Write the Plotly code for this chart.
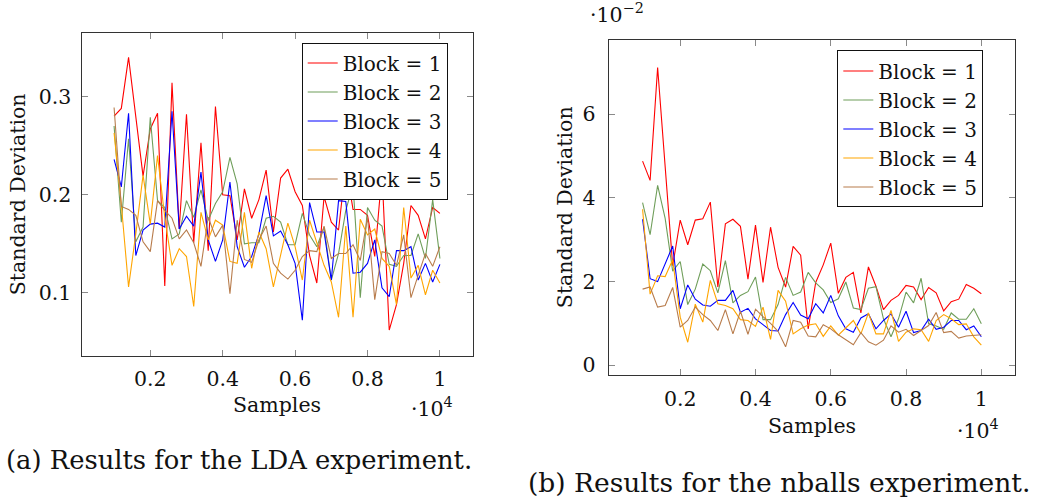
import plotly.graph_objects as go

W, H = 1037, 500

# ---------------- data ----------------
samples = list(range(1000, 10001, 200))          # 46 sample sizes
x_vals = [s / 1e4 for s in samples]              # axis shown in units of 10^4

series_names = ["Block = 1", "Block = 2", "Block = 3", "Block = 4", "Block = 5"]
series_colors = ["#ff0000", "#6f9e5a", "#0000ff", "#ffa500", "#b87c4c"]

# LDA experiment
lda_b1 = [0.280, 0.288, 0.340, 0.278, 0.219, 0.267, 0.283, 0.107, 0.314, 0.165,
          0.282, 0.151, 0.253, 0.143, 0.290, 0.200, 0.199, 0.154, 0.206, 0.176,
          0.195, 0.225, 0.162, 0.217, 0.226, 0.203, 0.189, 0.138, 0.110, 0.198,
          0.172, 0.164, 0.230, 0.185, 0.185, 0.179, 0.137, 0.222, 0.062, 0.088,
          0.130, 0.189, 0.179, 0.155, 0.187, 0.181]
lda_b2 = [0.270, 0.172, 0.257, 0.152, 0.167, 0.279, 0.194, 0.187, 0.155, 0.160,
          0.194, 0.177, 0.205, 0.174, 0.191, 0.203, 0.238, 0.211, 0.150, 0.151,
          0.151, 0.176, 0.178, 0.172, 0.149, 0.149, 0.181, 0.159, 0.147, 0.167,
          0.113, 0.140, 0.184, 0.210, 0.095, 0.187, 0.174, 0.168, 0.129, 0.127,
          0.138, 0.138, 0.160, 0.135, 0.195, 0.135]
lda_b3 = [0.236, 0.208, 0.283, 0.138, 0.164, 0.170, 0.171, 0.167, 0.285, 0.165,
          0.178, 0.168, 0.223, 0.154, 0.132, 0.154, 0.213, 0.147, 0.126, 0.137,
          0.160, 0.199, 0.158, 0.163, 0.149, 0.130, 0.072, 0.192, 0.162, 0.162,
          0.113, 0.194, 0.193, 0.120, 0.121, 0.130, 0.154, 0.105, 0.096, 0.143,
          0.143, 0.147, 0.113, 0.130, 0.111, 0.129]
lda_b4 = [0.263, 0.190, 0.106, 0.160, 0.220, 0.170, 0.240, 0.177, 0.128, 0.145,
          0.137, 0.086, 0.182, 0.154, 0.174, 0.169, 0.132, 0.130, 0.182, 0.125,
          0.162, 0.145, 0.106, 0.137, 0.171, 0.147, 0.113, 0.174, 0.150, 0.128,
          0.111, 0.075, 0.168, 0.075, 0.175, 0.159, 0.165, 0.135, 0.127, 0.088,
          0.187, 0.115, 0.128, 0.098, 0.123, 0.110]
lda_b5 = [0.289, 0.188, 0.185, 0.179, 0.152, 0.142, 0.194, 0.184, 0.176, 0.155,
          0.164, 0.151, 0.127, 0.177, 0.157, 0.169, 0.099, 0.174, 0.134, 0.131,
          0.154, 0.168, 0.130, 0.120, 0.114, 0.123, 0.137, 0.143, 0.142, 0.168,
          0.135, 0.140, 0.140, 0.149, 0.133, 0.177, 0.093, 0.142, 0.140, 0.128,
          0.159, 0.095, 0.118, 0.140, 0.127, 0.147]

# nballs experiment (values in units of 10^-2)
nb_b1 = [4.88, 4.42, 7.12, 4.70, 2.38, 3.47, 2.88, 3.47, 3.50, 3.90,
         1.87, 3.38, 3.49, 3.32, 2.06, 3.35, 1.98, 3.30, 2.34, 1.87,
         2.84, 2.63, 0.87, 1.98, 2.40, 2.92, 1.72, 2.10, 2.22, 1.25,
         2.35, 1.89, 1.33, 1.55, 1.67, 1.91, 1.87, 1.57, 1.86, 1.73,
         1.30, 1.52, 1.58, 1.93, 1.84, 1.71]
nb_b2 = [3.89, 3.12, 4.30, 3.51, 2.25, 2.48, 1.45, 1.82, 2.42, 2.26,
         1.73, 2.50, 1.49, 1.67, 1.76, 2.11, 1.09, 1.09, 1.45, 2.10,
         1.67, 1.75, 2.22, 1.97, 1.80, 1.50, 1.59, 1.99, 1.37, 1.33,
         1.84, 1.88, 1.11, 0.68, 1.11, 1.75, 1.49, 2.08, 0.99, 0.94,
         0.86, 1.25, 1.10, 1.10, 1.35, 0.99]
nb_b3 = [3.49, 2.07, 2.00, 2.42, 2.85, 1.35, 1.92, 1.58, 1.44, 1.41,
         1.55, 1.55, 1.79, 1.27, 1.36, 1.11, 0.97, 0.83, 0.82, 1.21,
         1.50, 1.20, 1.11, 1.47, 1.25, 1.67, 1.18, 0.87, 0.79, 1.13,
         1.23, 0.87, 1.07, 1.23, 0.91, 1.29, 0.78, 0.83, 1.10, 0.86,
         0.91, 1.07, 1.07, 0.85, 0.94, 0.68]
nb_b4 = [3.73, 1.70, 2.14, 2.12, 2.52, 1.15, 0.55, 1.46, 1.03, 2.03,
         1.47, 1.43, 1.35, 1.09, 1.07, 0.93, 1.39, 0.62, 1.79, 1.53,
         0.75, 0.87, 0.96, 0.99, 0.69, 0.94, 0.72, 0.89, 1.07, 0.75,
         1.25, 0.75, 0.75, 1.31, 0.57, 0.79, 0.87, 0.85, 0.57, 1.07,
         1.21, 1.11, 0.97, 0.99, 0.68, 0.48]
nb_b5 = [1.82, 1.87, 1.39, 1.43, 1.86, 0.91, 1.07, 1.39, 1.21, 1.07,
         0.83, 1.33, 0.75, 1.29, 0.74, 1.34, 1.16, 1.00, 0.81, 0.44,
         1.07, 1.03, 0.70, 0.68, 0.97, 0.87, 0.73, 0.60, 0.49, 0.78,
         0.56, 0.48, 0.60, 0.94, 0.79, 0.86, 0.71, 0.83, 0.95, 1.26,
         0.78, 0.81, 0.65, 0.70, 0.71, 0.73]

lda_series = [lda_b1, lda_b2, lda_b3, lda_b4, lda_b5]
nb_series = [nb_b1, nb_b2, nb_b3, nb_b4, nb_b5]

x_tickvals = [0.2, 0.4, 0.6, 0.8, 1.0]
x_ticktext = ["0.2", "0.4", "0.6", "0.8", "1"]
lda_y_tickvals = [0.1, 0.2, 0.3]
lda_y_ticktext = ["0.1", "0.2", "0.3"]
nb_y_tickvals = [0, 2, 4, 6]
nb_y_ticktext = ["0", "2", "4", "6"]

# ---------------- figure ----------------
FONT = "DejaVu Serif"
TXT = "#111111"
fig = go.Figure()

for name, col, ys in zip(series_names, series_colors, lda_series):
    fig.add_trace(go.Scatter(x=x_vals, y=ys, mode="lines", name=name,
                             line=dict(color=col, width=1.1),
                             xaxis="x", yaxis="y", legend="legend"))
for name, col, ys in zip(series_names, series_colors, nb_series):
    fig.add_trace(go.Scatter(x=x_vals, y=ys, mode="lines", name=name,
                             line=dict(color=col, width=1.1),
                             xaxis="x2", yaxis="y2", legend="legend2"))


def px(x):
    return x / W


def py(y):
    return 1 - y / H


axis_common = dict(showline=True, linecolor="#333333", linewidth=1, mirror="ticks",
                   ticks="inside", ticklen=6, tickcolor="#8a8a8a", tickwidth=1,
                   showgrid=False, zeroline=False,
                   tickfont=dict(family=FONT, size=20.5, color=TXT))

legend_common = dict(xanchor="left", yanchor="top", bordercolor=TXT, borderwidth=1,
                     bgcolor="white", font=dict(family=FONT, size=20, color=TXT),
                     tracegroupgap=0, itemwidth=30)

fig.update_layout(
    width=W, height=H, margin=dict(l=0, r=0, t=0, b=0),
    paper_bgcolor="white", plot_bgcolor="white",
    font=dict(family=FONT, color=TXT),
    xaxis=dict(domain=[px(81.5), px(472.5)], range=[0.01, 1.09],
               tickvals=x_tickvals, ticktext=x_ticktext, anchor="y",
               ticklabelstandoff=5, **axis_common),
    yaxis=dict(domain=[py(357), py(33)], range=[0.036, 0.365],
               tickvals=lda_y_tickvals, ticktext=lda_y_ticktext, anchor="x",
               ticklabelstandoff=5, **axis_common),
    xaxis2=dict(domain=[px(608.7), px(1015.2)], range=[0.01, 1.09],
                tickvals=x_tickvals, ticktext=x_ticktext, anchor="y2",
                ticklabelstandoff=5, **axis_common),
    yaxis2=dict(domain=[py(376.7), py(40)], range=[-0.238, 7.78],
                tickvals=nb_y_tickvals, ticktext=nb_y_ticktext, anchor="x2",
                ticklabelstandoff=8, **axis_common),
    legend=dict(x=px(301.7), y=py(42.7), **legend_common),
    legend2=dict(x=px(837.3), y=py(50.7), **legend_common),
    showlegend=True,
)

ann_font = dict(family=FONT, size=20.5, color=TXT)
annotations = [
    dict(text="Samples", x=px(277), y=py(407), font=ann_font),
    dict(text="Samples", x=px(812), y=py(428), font=ann_font),
    dict(text="·10<sup>4</sup>", x=px(432), y=py(409), font=ann_font),
    dict(text="·10<sup>4</sup>", x=px(978), y=py(431), font=ann_font),
    dict(text="·10<sup>−2</sup>", x=px(617), y=py(14), font=ann_font),
    dict(text="Standard Deviation", x=px(18), y=py(195), textangle=-90, font=ann_font),
    dict(text="Standard Deviation", x=px(565), y=py(208), textangle=-90, font=ann_font),
    dict(text="(a) Results for the LDA experiment.", x=px(239), y=py(462),
         font=dict(family=FONT, size=25.8, color=TXT)),
    dict(text="(b) Results for the nballs experiment.", x=px(779), y=py(484),
         font=dict(family=FONT, size=26.5, color=TXT)),
]
for a in annotations:
    a.update(xref="paper", yref="paper", showarrow=False, xanchor="center", yanchor="middle")
fig.update_layout(annotations=annotations)

fig.write_html("out.html")
